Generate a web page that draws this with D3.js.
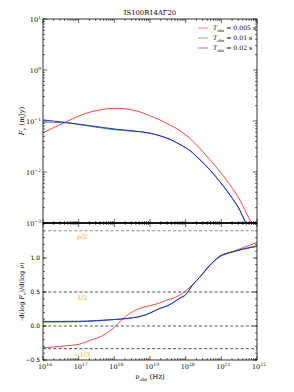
<!DOCTYPE html>
<html>
<head>
    <meta charset='utf-8'>
    <title>IS100R14AΓ20</title>
    <style>
        body { margin: 0; background: #fff; }
        svg { display: block; }
    </style>
</head>
<body>
<svg width="294" height="392"></svg>
<script src="https://cdn.jsdelivr.net/npm/d3@7"></script>
<script>
    const width = 294
    const height = 392

    // legend / series names
    const seriesNames = ["0.005 s", "0.01 s", "0.02 s"]
    const seriesColors = ["#ff3030", "#1a8a1a", "#1a1aff"]

    // upper panel: flux density F_nu (mJy) vs log10(nu)
    const logNuRedF = [16.0, 16.33, 16.66, 17.3, 17.7, 18.05, 18.72, 19.0, 19.28, 19.56, 19.84, 20.12, 20.4, 20.68, 20.96, 21.24, 21.52, 21.8, 21.85]
    const fluxRed = [0.0589, 0.0759, 0.0977, 0.148, 0.170, 0.178, 0.151, 0.126, 0.105, 0.0832, 0.0646, 0.0457, 0.0288, 0.0174, 0.0102, 0.00562, 0.00282, 0.00115, 0.00098]
    const logNuGreenF = [16.0, 16.3, 16.66, 17.3, 18.05, 18.72, 19.0, 19.28, 19.56, 19.84, 20.12, 20.4, 20.68, 20.96, 21.24, 21.52, 21.69, 21.72]
    const fluxGreen = [0.0955, 0.0944, 0.0923, 0.0794, 0.0668, 0.0617, 0.0575, 0.0513, 0.0437, 0.0347, 0.0263, 0.0174, 0.0110, 0.00646, 0.00355, 0.00178, 0.00100, 0.00093]
    const logNuBlueF = [16.0, 16.3, 16.66, 17.3, 18.05, 18.72, 19.0, 19.28, 19.56, 19.84, 20.12, 20.4, 20.68, 20.96, 21.24, 21.52, 21.69, 21.72]
    const fluxBlue = [0.105, 0.0995, 0.0933, 0.0813, 0.0692, 0.0617, 0.0575, 0.0513, 0.0437, 0.0347, 0.0263, 0.0174, 0.0110, 0.00646, 0.00355, 0.00178, 0.00100, 0.00093]

    // lower panel: spectral slope -dlogF/dlognu vs log10(nu)
    const logNuRedS = [16.0, 16.66, 17.0, 17.32, 17.6, 18.0, 18.25, 18.53, 18.72, 19.0, 19.28, 19.47, 19.65, 19.93, 20.03, 20.4, 20.77, 20.96, 21.05, 21.34, 22.0]
    const slopeRed = [-0.32, -0.29, -0.27, -0.21, -0.16, -0.02, 0.11, 0.215, 0.26, 0.30, 0.34, 0.38, 0.41, 0.49, 0.53, 0.72, 0.94, 1.03, 1.05, 1.10, 1.23]
    const logNuGreenS = [16.0, 16.5, 17.0, 17.5, 18.0, 18.5, 18.72, 19.0, 19.28, 19.5, 19.84, 20.0, 20.2, 20.4, 20.6, 20.96, 21.33, 22.0]
    const slopeGreen = [0.058, 0.059, 0.062, 0.075, 0.095, 0.12, 0.14, 0.19, 0.26, 0.30, 0.41, 0.46, 0.61, 0.72, 0.85, 1.03, 1.095, 1.18]
    const logNuBlueS = [16.0, 16.5, 17.0, 17.5, 18.0, 18.5, 18.72, 19.0, 19.28, 19.5, 19.84, 20.0, 20.2, 20.4, 20.6, 20.96, 21.33, 22.0]
    const slopeBlue = [0.068, 0.068, 0.07, 0.08, 0.095, 0.12, 0.14, 0.19, 0.26, 0.30, 0.41, 0.46, 0.61, 0.72, 0.85, 1.02, 1.09, 1.17]

    // reference slopes
    const refValues = [1.4, 0.5, 0.0, -1 / 3]
    const refLabels = ["p/2", "1/2", "", "\u22121/3"]

    const xDecades = [16, 17, 18, 19, 20, 21, 22]
    const fDecades = [1, 0, -1, -2, -3]
    const slopeTicks = [1.0, 0.5, 0.0, -0.5]

    const margin = {left: 43, right: 37, top: 19, mid: 223, bottom: 32}
    const serif = "'DejaVu Serif', 'Liberation Serif', serif"
    const sans = "'DejaVu Sans', sans-serif"

    const svg = d3.select("svg")

    const x = d3.scaleLog()
        .domain([1e16, 1e22])
        .range([margin.left, width - margin.right])

    const yF = d3.scaleLog()
        .domain([1e-3, 1e1])
        .range([margin.mid, margin.top])

    const yS = d3.scaleLinear()
        .domain([-0.5, 1.515])
        .range([height - margin.bottom, margin.mid])

    const clipTop = svg.append("clipPath").attr("id", "clipTop")
    clipTop.append("rect")
        .attr("x", margin.left).attr("y", margin.top)
        .attr("width", x.range()[1] - margin.left).attr("height", margin.mid - margin.top)
    const clipBottom = svg.append("clipPath").attr("id", "clipBottom")
    clipBottom.append("rect")
        .attr("x", margin.left).attr("y", margin.mid)
        .attr("width", x.range()[1] - margin.left).attr("height", yS.range()[0] - margin.mid)

    const logMinor = (lo, hi) => {
        const out = []
        for (let e = lo; e < hi; e++) {
            for (let k = 2; k <= 9; k++) out.push(k * Math.pow(10, e))
        }
        return out
    }

    // ticks, pointed inward on all sides
    const drawTicks = (g, scale, values, side, len, from) => {
        values.forEach(v => {
            const p = scale(v)
            if (side === "bottom") g.append("line").attr("x1", p).attr("x2", p).attr("y1", from).attr("y2", from - len)
            if (side === "top") g.append("line").attr("x1", p).attr("x2", p).attr("y1", from).attr("y2", from + len)
            if (side === "left") g.append("line").attr("y1", p).attr("y2", p).attr("x1", from).attr("x2", from + len)
            if (side === "right") g.append("line").attr("y1", p).attr("y2", p).attr("x1", from).attr("x2", from - len)
        })
    }

    const ticks = svg.append("g").attr("stroke", "#000").attr("stroke-width", 0.6)
    const xMaj = xDecades.map(d => Math.pow(10, d))
    const xMin = logMinor(16, 22)
    const x0 = x.range()[0], x1 = x.range()[1]
    const yBot = yS.range()[0]

    // upper panel ticks
    drawTicks(ticks, x, xMaj, "top", 4, margin.top)
    drawTicks(ticks, x, xMin, "top", 2, margin.top)
    drawTicks(ticks, x, xMaj, "bottom", 4, margin.mid)
    drawTicks(ticks, x, xMin, "bottom", 2, margin.mid)
    drawTicks(ticks, yF, fDecades.map(d => Math.pow(10, d)), "left", 4, x0)
    drawTicks(ticks, yF, logMinor(-3, 1), "left", 2, x0)
    drawTicks(ticks, yF, fDecades.map(d => Math.pow(10, d)), "right", 4, x1)
    drawTicks(ticks, yF, logMinor(-3, 1), "right", 2, x1)

    // lower panel ticks
    const sMinor = d3.range(-0.5, 1.51, 0.1)
    drawTicks(ticks, x, xMaj, "top", 4, margin.mid)
    drawTicks(ticks, x, xMin, "top", 2, margin.mid)
    drawTicks(ticks, x, xMaj, "bottom", 4, yBot)
    drawTicks(ticks, x, xMin, "bottom", 2, yBot)
    drawTicks(ticks, yS, slopeTicks, "left", 4, x0)
    drawTicks(ticks, yS, sMinor, "left", 2, x0)
    drawTicks(ticks, yS, slopeTicks, "right", 4, x1)
    drawTicks(ticks, yS, sMinor, "right", 2, x1)

    // reference dashed lines
    const refs = svg.append("g")
    refValues.forEach((v, i) => {
        refs.append("line")
            .attr("x1", x0).attr("x2", x1)
            .attr("y1", yS(v)).attr("y2", yS(v))
            .attr("stroke", i === 0 ? "#8a8a8a" : "#222")
            .attr("stroke-width", i === 0 ? 1.1 : 0.8)
            .attr("stroke-dasharray", "3,2.2")
        if (refLabels[i]) {
            refs.append("text")
                .attr("x", x(Math.pow(10, 17.1)))
                .attr("y", yS(v) + 8)
                .attr("text-anchor", "middle")
                .attr("font-family", serif)
                .attr("font-size", 6.5)
                .attr("fill", "#ffa500")
                .text(refLabels[i])
        }
    })

    // curves
    const fluxSeries = [
        {nu: logNuRedF, y: fluxRed},
        {nu: logNuGreenF, y: fluxGreen},
        {nu: logNuBlueF, y: fluxBlue}
    ]
    const slopeSeries = [
        {nu: logNuRedS, y: slopeRed},
        {nu: logNuGreenS, y: slopeGreen},
        {nu: logNuBlueS, y: slopeBlue}
    ]

    const lineF = d3.line()
        .x(d => x(Math.pow(10, d[0])))
        .y(d => yF(d[1]))
        .curve(d3.curveMonotoneX)
    const lineS = d3.line()
        .x(d => x(Math.pow(10, d[0])))
        .y(d => yS(d[1]))
        .curve(d3.curveMonotoneX)

    const curvesTop = svg.append("g").attr("clip-path", "url(#clipTop)")
    fluxSeries.forEach((s, i) => {
        curvesTop.append("path")
            .attr("d", lineF(d3.zip(s.nu, s.y)))
            .attr("fill", "none")
            .attr("stroke", seriesColors[i])
            .attr("stroke-width", 0.9)
    })
    const curvesBottom = svg.append("g").attr("clip-path", "url(#clipBottom)")
    slopeSeries.forEach((s, i) => {
        curvesBottom.append("path")
            .attr("d", lineS(d3.zip(s.nu, s.y)))
            .attr("fill", "none")
            .attr("stroke", seriesColors[i])
            .attr("stroke-width", 0.9)
    })

    // frames
    const frames = svg.append("g").attr("fill", "none").attr("stroke", "#000").attr("stroke-width", 0.8)
    frames.append("rect")
        .attr("x", x0).attr("y", margin.top)
        .attr("width", x1 - x0).attr("height", margin.mid - margin.top)
    frames.append("rect")
        .attr("x", x0).attr("y", margin.mid)
        .attr("width", x1 - x0).attr("height", yBot - margin.mid)
    frames.append("line")
        .attr("x1", x0).attr("x2", x1).attr("y1", margin.mid).attr("y2", margin.mid)
        .attr("stroke-width", 1.4)

    // tick labels with exponents
    const powLabel = (g, base, exp, px, py, anchor) => {
        const t = g.append("text")
            .attr("x", px).attr("y", py)
            .attr("text-anchor", anchor)
            .attr("font-family", serif)
            .attr("font-size", 6.5)
            .attr("fill", "#000")
        t.append("tspan").text(base)
        t.append("tspan").attr("dy", -3).attr("font-size", 4.5).text(exp)
    }

    const labels = svg.append("g")
    xDecades.forEach(d => {
        powLabel(labels, "10", String(d), x(Math.pow(10, d)) + 2, yBot + 9, "middle")
    })
    fDecades.forEach(d => {
        powLabel(labels, "10", d < 0 ? "\u2212" + (-d) : String(d), x0 - 2, yF(Math.pow(10, d)) + 2.5, "end")
    })
    slopeTicks.forEach(v => {
        labels.append("text")
            .attr("x", x0 - 3).attr("y", yS(v) + 2.3)
            .attr("text-anchor", "end")
            .attr("font-family", sans)
            .attr("font-size", 6)
            .text(v < 0 ? "\u2212" + (-v).toFixed(1) : v.toFixed(1))
    })

    // title
    svg.append("text")
        .attr("x", (x0 + x1) / 2).attr("y", 15)
        .attr("text-anchor", "middle")
        .attr("font-family", serif)
        .attr("font-size", 6.8)
        .text("IS100R14A\u039320")

    // axis titles
    const xLabel = svg.append("text")
        .attr("x", (x0 + x1) / 2).attr("y", yBot + 19)
        .attr("text-anchor", "middle")
        .attr("font-family", serif)
        .attr("font-size", 7)
    xLabel.append("tspan").attr("font-style", "italic").text("\u03bd")
    xLabel.append("tspan").attr("dy", 1.5).attr("font-size", 4.5).text("obs")
    xLabel.append("tspan").attr("dy", -1.5).text(" (Hz)")

    const yLabelF = svg.append("text")
        .attr("transform", `translate(24,${(margin.top + margin.mid) / 2}) rotate(-90)`)
        .attr("text-anchor", "middle")
        .attr("font-family", serif)
        .attr("font-size", 7)
    yLabelF.append("tspan").attr("font-style", "italic").text("F")
    yLabelF.append("tspan").attr("dy", 1.5).attr("font-size", 4.5).attr("font-style", "italic").text("\u03bd")
    yLabelF.append("tspan").attr("dy", -1.5).text(" (mJy)")

    const yLabelS = svg.append("text")
        .attr("transform", `translate(24,${(margin.mid + yBot) / 2}) rotate(-90)`)
        .attr("text-anchor", "middle")
        .attr("font-family", serif)
        .attr("font-size", 6.5)
    yLabelS.append("tspan").text("-d(log ")
    yLabelS.append("tspan").attr("font-style", "italic").text("F")
    yLabelS.append("tspan").attr("dy", 1.5).attr("font-size", 4.3).attr("font-style", "italic").text("\u03bd")
    yLabelS.append("tspan").attr("dy", -1.5).text(")/d(log ")
    yLabelS.append("tspan").attr("font-style", "italic").text("\u03bd")
    yLabelS.append("tspan").text(")")

    // legend
    const legend = svg.append("g")
    seriesNames.forEach((name, i) => {
        const ly = 28 + i * 10
        legend.append("line")
            .attr("x1", 198).attr("x2", 208)
            .attr("y1", ly).attr("y2", ly)
            .attr("stroke", seriesColors[i])
            .attr("stroke-opacity", 0.45)
            .attr("stroke-width", 1.3)
        const t = legend.append("text")
            .attr("x", 213).attr("y", ly + 2.3)
            .attr("font-family", serif)
            .attr("font-size", 6.2)
        t.append("tspan").attr("font-style", "italic").text("T")
        t.append("tspan").attr("dy", 1.5).attr("font-size", 4).text("obs")
        t.append("tspan").attr("dy", -1.5).text(" = " + name)
    })
</script>
</body>
</html>
